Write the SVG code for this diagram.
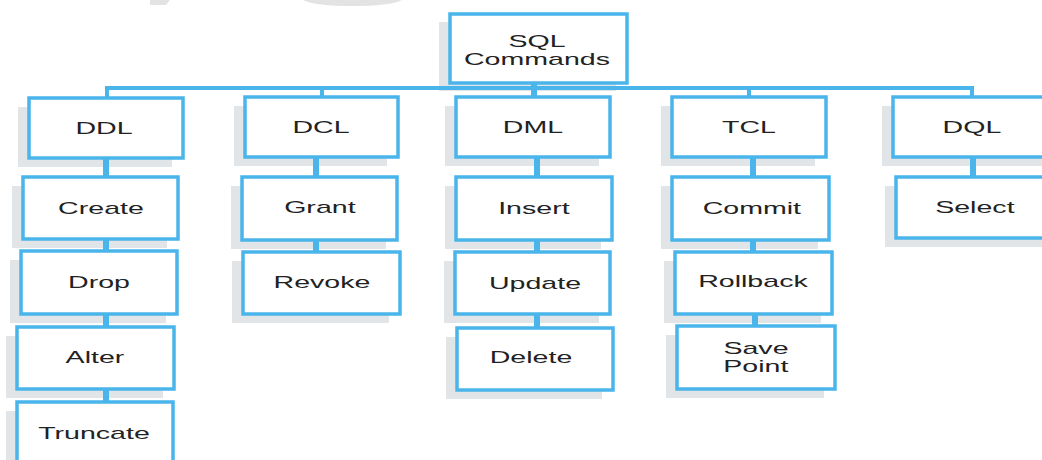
<svg xmlns="http://www.w3.org/2000/svg" width="1042" height="460" viewBox="0 0 1042 460">
  <style>
    .shadow { fill: #e2e5e8; }
    .box { fill: #ffffff; stroke: #4ab5ea; stroke-width: 3.5; }
    .lbl { font-family: "Liberation Sans", Arial, sans-serif; font-size: 17px; fill: #222222; text-anchor: middle;
           transform-box: fill-box; transform-origin: center; transform: scaleX(1.68); }
    .bus { fill: none; stroke: #4ab5ea; stroke-width: 4; }
    .link { stroke: #4ab5ea; stroke-width: 6; }
    .mark { fill: #e3e3e3; }
  </style>

  <!-- faint background marks along the top edge -->
  <g id="backdrop">
    <path class="mark" d="M150 0 H170 L166 5 H150 Z"/>
    <path class="mark" d="M303 0 H402 Q390 6 352 6 Q315 6 303 0 Z"/>
  </g>

  <g id="sql-commands">
    <rect class="shadow" x="439" y="22" width="177" height="69"/>
    <rect class="box" x="450" y="14" width="177" height="69"/>
    <text class="lbl" x="537" y="47">SQL</text>
    <text class="lbl" x="537" y="65">Commands</text>
  </g>

  <!-- category row -->
  <g id="ddl">
    <rect class="shadow" x="18" y="107" width="154" height="60"/>
    <rect class="box" x="29" y="98" width="154" height="60"/>
    <text class="lbl" x="104" y="134">DDL</text>
  </g>
  <g id="dcl">
    <rect class="shadow" x="234" y="106" width="153" height="60"/>
    <rect class="box" x="245" y="97" width="153" height="60"/>
    <text class="lbl" x="321" y="133">DCL</text>
  </g>
  <g id="dml">
    <rect class="shadow" x="445" y="106" width="154" height="60"/>
    <rect class="box" x="456" y="97" width="154" height="60"/>
    <text class="lbl" x="533" y="133">DML</text>
  </g>
  <g id="tcl">
    <rect class="shadow" x="661" y="106" width="154" height="60"/>
    <rect class="box" x="672" y="97" width="154" height="60"/>
    <text class="lbl" x="749" y="133">TCL</text>
  </g>
  <g id="dql">
    <rect class="shadow" x="882" y="106" width="160" height="60"/>
    <rect class="box" x="893" y="97" width="160" height="60"/>
    <text class="lbl" x="972" y="133">DQL</text>
  </g>

  <!-- DDL commands -->
  <g id="create">
    <rect class="shadow" x="12" y="186" width="155" height="62"/>
    <rect class="box" x="23" y="177" width="155" height="62"/>
    <text class="lbl" x="101" y="214">Create</text>
  </g>
  <g id="drop">
    <rect class="shadow" x="10" y="260" width="156" height="63"/>
    <rect class="box" x="21" y="251" width="156" height="63"/>
    <text class="lbl" x="99" y="288">Drop</text>
  </g>
  <g id="alter">
    <rect class="shadow" x="6" y="336" width="157" height="62"/>
    <rect class="box" x="17" y="327" width="157" height="62"/>
    <text class="lbl" x="95" y="363">Alter</text>
  </g>
  <g id="truncate">
    <rect class="shadow" x="6" y="411" width="156" height="70"/>
    <rect class="box" x="17" y="402" width="156" height="70"/>
    <text class="lbl" x="94" y="439">Truncate</text>
  </g>

  <!-- DCL commands -->
  <g id="grant">
    <rect class="shadow" x="231" y="186" width="155" height="63"/>
    <rect class="box" x="242" y="177" width="155" height="63"/>
    <text class="lbl" x="320" y="213">Grant</text>
  </g>
  <g id="revoke">
    <rect class="shadow" x="232" y="261" width="157" height="62"/>
    <rect class="box" x="243" y="252" width="157" height="62"/>
    <text class="lbl" x="322" y="288">Revoke</text>
  </g>

  <!-- DML commands -->
  <g id="insert">
    <rect class="shadow" x="445" y="186" width="156" height="63"/>
    <rect class="box" x="456" y="177" width="156" height="63"/>
    <text class="lbl" x="534" y="214">Insert</text>
  </g>
  <g id="update">
    <rect class="shadow" x="444" y="261" width="155" height="62"/>
    <rect class="box" x="455" y="252" width="155" height="62"/>
    <text class="lbl" x="535" y="289">Update</text>
  </g>
  <g id="delete">
    <rect class="shadow" x="446" y="337" width="156" height="62"/>
    <rect class="box" x="457" y="328" width="156" height="62"/>
    <text class="lbl" x="531" y="363">Delete</text>
  </g>

  <!-- TCL commands -->
  <g id="commit">
    <rect class="shadow" x="661" y="186" width="157" height="63"/>
    <rect class="box" x="672" y="177" width="157" height="63"/>
    <text class="lbl" x="752" y="214">Commit</text>
  </g>
  <g id="rollback">
    <rect class="shadow" x="664" y="261" width="157" height="62"/>
    <rect class="box" x="675" y="252" width="157" height="62"/>
    <text class="lbl" x="753" y="287">Rollback</text>
  </g>
  <g id="save-point">
    <rect class="shadow" x="666" y="335" width="158" height="63"/>
    <rect class="box" x="677" y="326" width="158" height="63"/>
    <text class="lbl" x="756" y="354">Save</text>
    <text class="lbl" x="756" y="372">Point</text>
  </g>

  <!-- DQL commands -->
  <g id="select">
    <rect class="shadow" x="885" y="186" width="160" height="61"/>
    <rect class="box" x="896" y="177" width="160" height="61"/>
    <text class="lbl" x="975" y="213">Select</text>
  </g>

  <g id="connectors">
    <path class="bus" d="M107 98 V88 H972 V97"/>
    <line class="bus" x1="322" y1="88" x2="322" y2="97"/>
    <line class="bus" x1="749" y1="88" x2="749" y2="97"/>
    <line class="link" x1="534" y1="84" x2="534" y2="96"/>
    <line class="link" x1="106" y1="159" x2="106" y2="176"/>
    <line class="link" x1="106" y1="240" x2="106" y2="250"/>
    <line class="link" x1="106" y1="315" x2="106" y2="326"/>
    <line class="link" x1="106" y1="390" x2="106" y2="401"/>
    <line class="link" x1="316" y1="158" x2="316" y2="176"/>
    <line class="link" x1="316" y1="241" x2="316" y2="251"/>
    <line class="link" x1="537" y1="158" x2="537" y2="176"/>
    <line class="link" x1="537" y1="241" x2="537" y2="251"/>
    <line class="link" x1="537" y1="315" x2="537" y2="327"/>
    <line class="link" x1="753" y1="158" x2="753" y2="176"/>
    <line class="link" x1="753" y1="241" x2="753" y2="251"/>
    <line class="link" x1="755" y1="315" x2="755" y2="325"/>
    <line class="link" x1="973" y1="158" x2="973" y2="176"/>
  </g>
</svg>
